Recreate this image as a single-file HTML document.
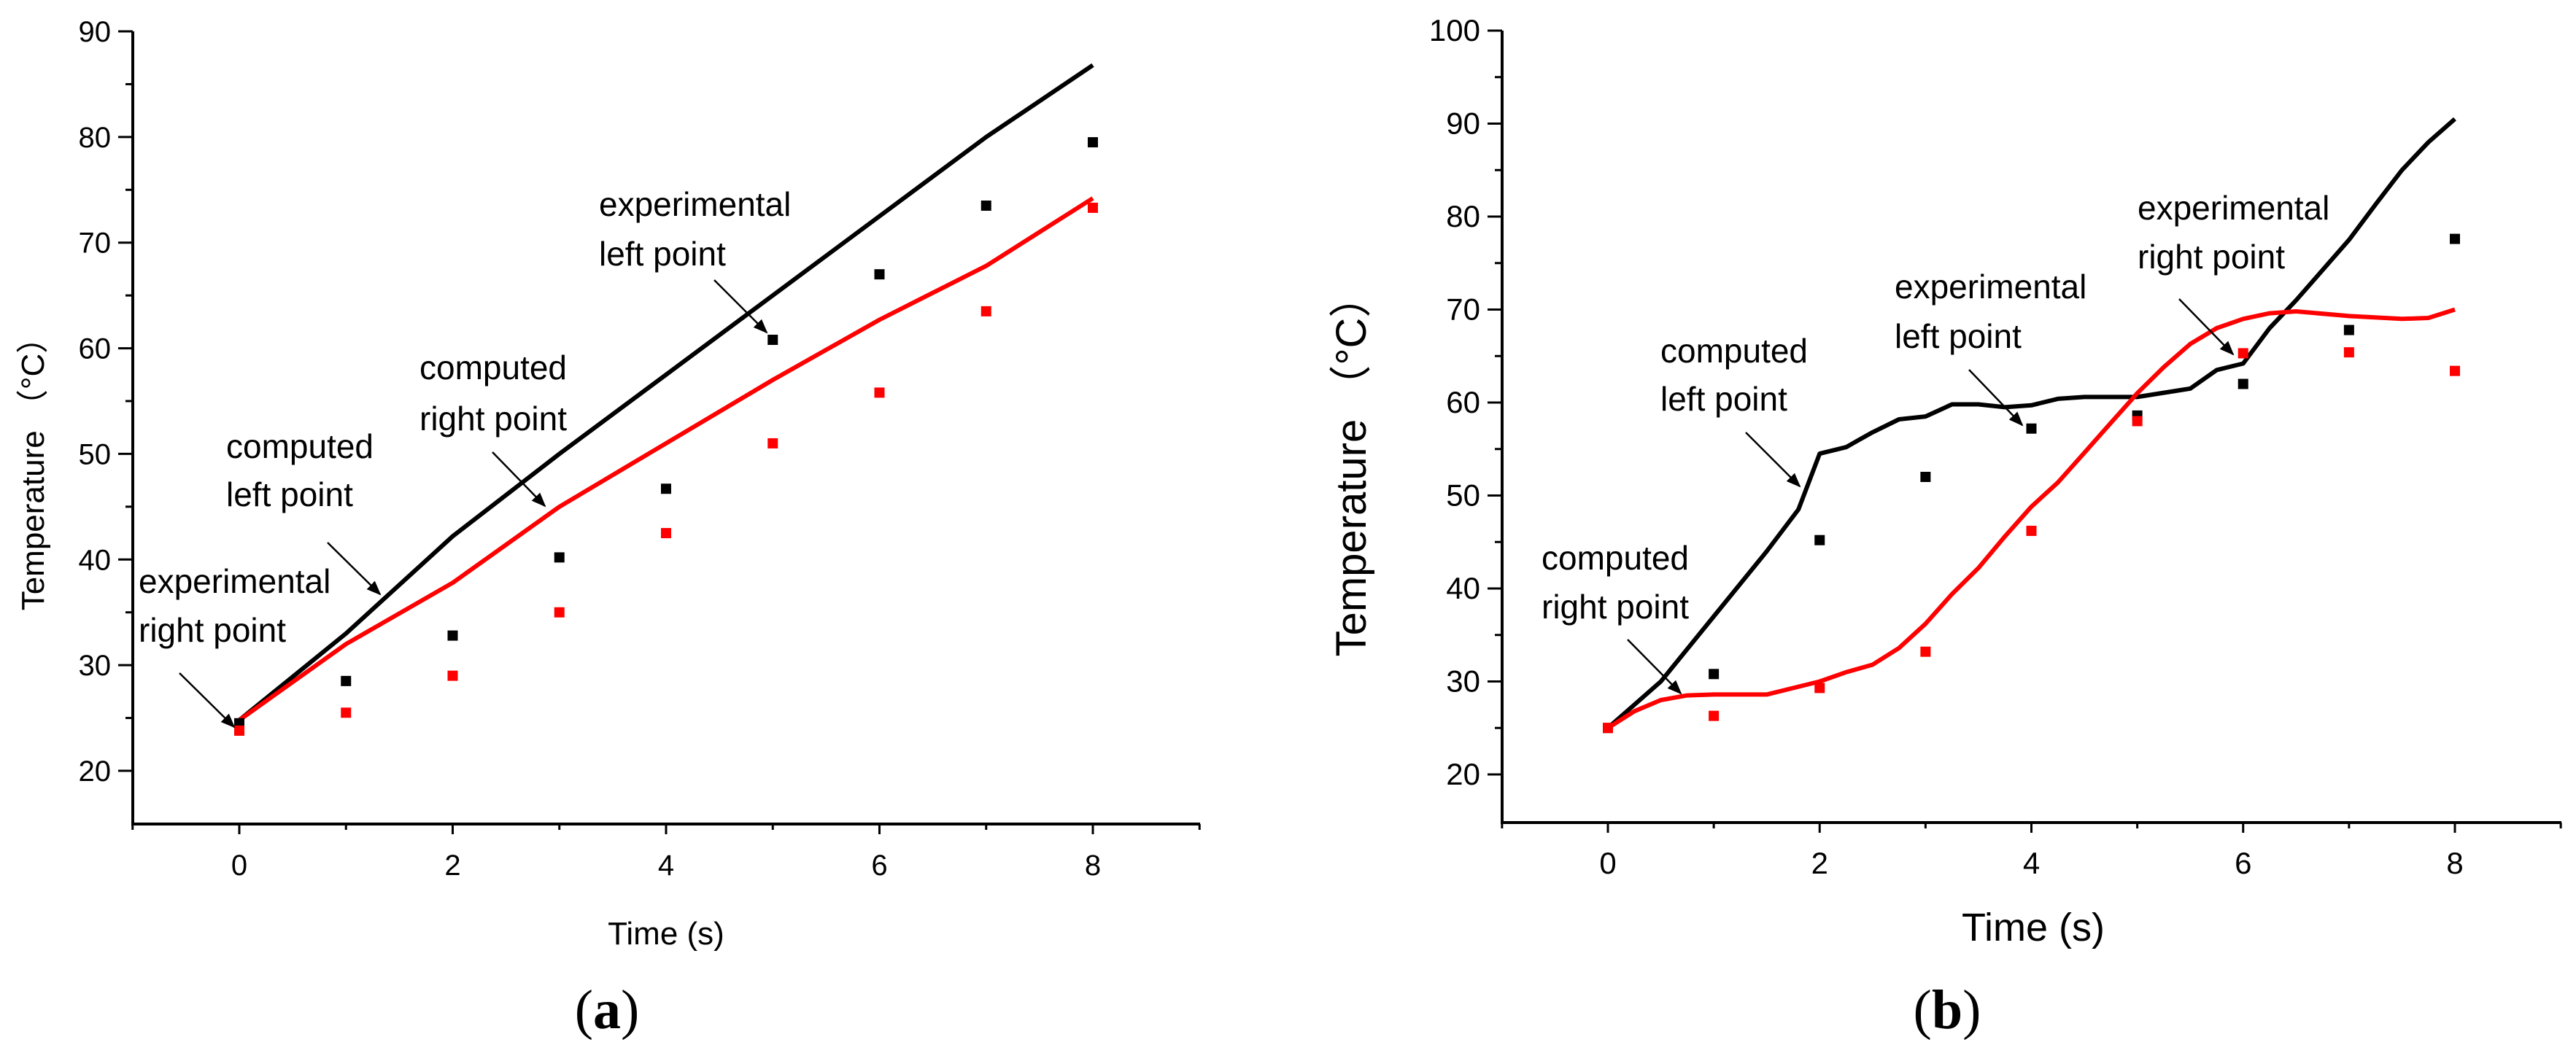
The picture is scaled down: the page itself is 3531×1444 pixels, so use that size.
<!DOCTYPE html>
<html><head><meta charset="utf-8"><style>
html,body{margin:0;padding:0;background:#fff}
svg{display:block}
text{font-family:"Liberation Sans Narrow","Liberation Sans",sans-serif;fill:#000}
</style></head><body>
<svg id="fig" width="3531" height="1444" viewBox="0 0 3531 1444" xmlns="http://www.w3.org/2000/svg">
<defs><marker id="ah" viewBox="0 0 10 10" refX="9" refY="5" markerWidth="8" markerHeight="8" orient="auto"><path d="M0,1 L10,5 L0,9 z" fill="#000"/></marker></defs>
</svg>
<script>
// ---- Chart (a) data
const aLineT = [0,1,2,3,4,5,6,7,8];
const aLeftLine = [24.8,33,42.2,50,57.5,65,72.5,80,86.8];
const aRightLine = [24.8,32,37.8,45,51,57,62.7,67.8,74.2];
const aPtT = [0,1,2,3,4,5,6,7,8];
const aLeftPts = [24.5,28.5,32.8,40.2,46.7,60.8,67,73.5,79.5];
const aRightPts = [23.8,25.5,29,35,42.5,51,55.8,63.5,73.3];
const aYTicks = [20,30,40,50,60,70,80,90];
// ---- Chart (b) data
const bLeftT = [0,0.5,1,1.5,1.8,2,2.25,2.5,2.75,3,3.25,3.5,3.75,4,4.25,4.5,5,5.5,5.75,6,6.25,6.5,7,7.25,7.5,7.75,8];
const bLeftLine = [25,30,37,44,48.5,54.5,55.2,56.8,58.2,58.5,59.8,59.8,59.5,59.7,60.4,60.6,60.6,61.5,63.5,64.2,68,71,77.5,81.3,85,88,90.5];
const bRightT = [0,0.25,0.5,0.75,1,1.5,2,2.25,2.5,2.75,3,3.25,3.5,3.75,4,4.25,4.5,4.75,5,5.25,5.5,5.75,6,6.25,6.5,7,7.5,7.75,8];
const bRightLine = [25,26.8,28,28.5,28.6,28.6,30,31,31.8,33.6,36.2,39.4,42.2,45.6,48.8,51.4,54.6,57.8,61,63.8,66.3,68,69,69.6,69.8,69.3,69,69.1,70];
const bPtT = [0,1,2,3,4,5,6,7,8];
const bLeftPts = [25,30.8,45.2,52,57.2,58.6,62,67.8,77.6];
const bRightPts = [25,26.3,29.3,33.2,46.2,58,65.3,65.4,63.4];
const bYTicks = [20,30,40,50,60,70,80,90,100];
const xTicks = [0,2,4,6,8];

const NS="http://www.w3.org/2000/svg";
const svg=document.getElementById('fig');
function mk(tag,attrs,parent){const e=document.createElementNS(NS,tag);for(const k in attrs)e.setAttribute(k,attrs[k]);(parent||svg).appendChild(e);return e;}

function chart(cfg){
  const g=mk('g',{});
  
  
  const X=t=>cfg.x0+(t-0)*(cfg.x8-cfg.x0)/8;
  const Y=v=>cfg.y20+(v-20)*(cfg.yTop-cfg.y20)/(cfg.vTop-20);
  const ax=mk('path',{d:`M${cfg.axL},${Y(cfg.vTop)} L${cfg.axL},${cfg.axY} L${cfg.axR},${cfg.axY}`,fill:'none',stroke:'#000','stroke-width':4},g);
  
  
  for(let v=20;v<=cfg.vTop;v+=5){
    const major=v%10===0;
    mk('line',{x1:cfg.axL-(major?20:10),x2:cfg.axL,y1:Y(v),y2:Y(v),stroke:'#000','stroke-width':3},g);
  }
  cfg.yTicks.forEach(v=>{
    const t=mk('text',{x:cfg.axL-30,y:Y(v)+14,'text-anchor':'end','font-size':cfg.tickFs},g);
    t.textContent=v;
    
    
  });
  for(let t=-1;t<=9;t++){
    const major=t%2===0;
    mk('line',{x1:X(t),x2:X(t),y1:cfg.axY,y2:cfg.axY+(major?14:8),stroke:'#000','stroke-width':3},g);
  }
  xTicks.forEach(v=>{
    const t=mk('text',{x:X(v),y:cfg.axY+70,'text-anchor':'middle','font-size':cfg.tickFs},g);
    t.textContent=v;
    
    
  });
  const xt=mk('text',{x:cfg.xTitleX,y:cfg.xTitleY,'text-anchor':'middle','font-size':cfg.xTitleFs},g);
  xt.textContent='Time (s)';
  
  
  const yt=mk('text',{transform:`translate(${cfg.yTitleX},${cfg.yTitleY}) rotate(-90)`,'text-anchor':'middle','font-size':cfg.yTitleFs,style:'font-family:"Liberation Sans","Noto Sans CJK SC",sans-serif'},g);
  yt.textContent='Temperature （°C）';
  
  
  cfg.lines.forEach(L=>{
    const d=L.t.map((t,i)=>(i?'L':'M')+X(t).toFixed(1)+','+Y(L.v[i]).toFixed(1)).join(' ');
    const p=mk('path',{d,fill:'none',stroke:L.c,'stroke-width':6,'stroke-linejoin':'round'},g);
    
    
  });
  cfg.pts.forEach(P=>{
    P.t.forEach((t,i)=>{
      const r=mk('rect',{x:X(t)-7,y:Y(P.v[i])-7,width:14,height:14,fill:P.c},g);
      
      
    });
  });
  cfg.notes.forEach(n=>{
    const t1=mk('text',{x:n.x,y:n.y1,'font-size':cfg.noteFs},g);
    t1.textContent=n.a;
    
    
    const t2=mk('text',{x:n.x,y:n.y2,'font-size':cfg.noteFs},g);
    t2.textContent=n.b;
    
    
    const ar=mk('line',{x1:n.ax1,y1:n.ay1,x2:n.ax2,y2:n.ay2,stroke:'#000','stroke-width':2.5,'marker-end':'url(#ah)'},g);
    
    
  });
  const cap=mk('text',{x:cfg.capX,y:1410,'text-anchor':'middle','font-size':76,style:'font-family:"Liberation Serif",serif'},g);
  cap.innerHTML='(<tspan font-weight="bold">'+cfg.cap+'</tspan>)';
  
  
}

chart({name:'chart-a',x0:328,x8:1498,y20:1057,yTop:43,vTop:90,axL:182,axR:1645,axY:1130,
  yTicks:aYTicks,tickFs:40,xTitleX:913,xTitleY:1295,xTitleFs:44,yTitleX:60,yTitleY:639,yTitleFs:44,noteFs:46,
  lines:[{t:aLineT,v:aLeftLine,c:'#000',name:'computed-left-line'},{t:aLineT,v:aRightLine,c:'#f00',name:'computed-right-line'}],
  pts:[{t:aPtT,v:aLeftPts,c:'#000',name:'experimental-left-point'},{t:aPtT,v:aRightPts,c:'#f00',name:'experimental-right-point'}],
  notes:[
    {a:'experimental',b:'left point',x:821,y1:296,y2:364,ax1:979,ay1:384,ax2:1051,ay2:456},
    {a:'computed',b:'right point',x:575,y1:520,y2:590,ax1:675,ay1:620,ax2:747,ay2:694},
    {a:'computed',b:'left point',x:310,y1:628,y2:694,ax1:449,ay1:744,ax2:521,ay2:815},
    {a:'experimental',b:'right point',x:190,y1:813,y2:880,ax1:246,ay1:923,ax2:321,ay2:997}],
  capX:832,cap:'a'});

chart({name:'chart-b',x0:2204,x8:3365,y20:1062,yTop:42,vTop:100,axL:2059,axR:3511,axY:1128,
  yTicks:bYTicks,tickFs:42,xTitleX:2787,xTitleY:1290,xTitleFs:54,yTitleX:1872,yTitleY:639,yTitleFs:58,noteFs:46,
  lines:[{t:bLeftT,v:bLeftLine,c:'#000',name:'computed-left-line'},{t:bRightT,v:bRightLine,c:'#f00',name:'computed-right-line'}],
  pts:[{t:bPtT,v:bLeftPts,c:'#000',name:'experimental-left-point'},{t:bPtT,v:bRightPts,c:'#f00',name:'experimental-right-point'}],
  notes:[
    {a:'computed',b:'left point',x:2276,y1:497,y2:563,ax1:2393,ay1:593,ax2:2467,ay2:667},
    {a:'experimental',b:'left point',x:2597,y1:409,y2:477,ax1:2699,ay1:507,ax2:2772,ay2:583},
    {a:'experimental',b:'right point',x:2930,y1:301,y2:368,ax1:2987,ay1:410,ax2:3061,ay2:486},
    {a:'computed',b:'right point',x:2113,y1:781,y2:848,ax1:2231,ay1:877,ax2:2304,ay2:951}],
  capX:2669,cap:'b'});
</script>
</body></html>
